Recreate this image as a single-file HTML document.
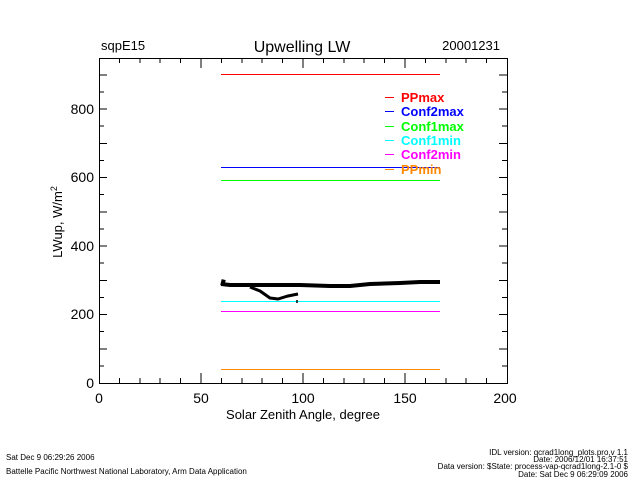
<!DOCTYPE html>
<html><head><style>body{margin:0;background:#fff}svg{display:block}</style></head><body>
<svg width="640" height="480" xmlns="http://www.w3.org/2000/svg" font-family="Liberation Sans, sans-serif">
<rect width="640" height="480" fill="#fff"/>
<text x="101" y="50" font-size="13">sqpE15</text>
<text x="302" y="52" font-size="16" text-anchor="middle">Upwelling  LW</text>
<text x="500" y="50" font-size="13" text-anchor="end">20001231</text>
<rect x="99.5" y="58.5" width="408" height="325" fill="none" stroke="#000" stroke-width="1" shape-rendering="crispEdges"/>
<g stroke="#000" stroke-width="1" shape-rendering="crispEdges">
<path d="M119.4 383v-5M139.8 383v-5M160.2 383v-5M180.6 383v-5M201 383v-10M221.4 383v-5M241.8 383v-5M262.2 383v-5M282.6 383v-5M303 383v-10M323.4 383v-5M343.8 383v-5M364.2 383v-5M384.6 383v-5M405 383v-10M425.4 383v-5M445.8 383v-5M466.2 383v-5M486.6 383v-5"/>
<path d="M119.4 58v5M139.8 58v5M160.2 58v5M180.6 58v5M201 58v10M221.4 58v5M241.8 58v5M262.2 58v5M282.6 58v5M303 58v10M323.4 58v5M343.8 58v5M364.2 58v5M384.6 58v5M405 58v10M425.4 58v5M445.8 58v5M466.2 58v5M486.6 58v5"/>
<path d="M99 365.9h5M99 348.8h8M99 331.6h5M99 314.5h8M99 297.4h5M99 280.3h8M99 263.1h5M99 246h8M99 228.9h5M99 211.8h8M99 194.6h5M99 177.5h8M99 160.4h5M99 143.3h8M99 126.1h5M99 109h8M99 91.9h5M99 74.8h8"/>
<path d="M507 365.9h-5M507 348.8h-8M507 331.6h-5M507 314.5h-8M507 297.4h-5M507 280.3h-8M507 263.1h-5M507 246h-8M507 228.9h-5M507 211.8h-8M507 194.6h-5M507 177.5h-8M507 160.4h-5M507 143.3h-8M507 126.1h-5M507 109h-8M507 91.9h-5M507 74.8h-8"/>
</g>
<g font-size="14" text-anchor="end">
<text x="94" y="388">0</text><text x="94" y="319">200</text><text x="94" y="251">400</text><text x="94" y="182">600</text><text x="94" y="114">800</text>
</g>
<g font-size="14" text-anchor="middle">
<text x="99" y="403">0</text><text x="201" y="403">50</text><text x="303" y="403">100</text><text x="405" y="403">150</text><text x="505" y="403">200</text>
</g>
<text x="303" y="419" font-size="13" text-anchor="middle">Solar Zenith Angle, degree</text>
<text transform="translate(62,222) rotate(-90)" font-size="13" text-anchor="middle">LWup, W/m<tspan dy="-5" font-size="9">2</tspan></text>
<g stroke-width="1" shape-rendering="crispEdges">
<line x1="221" y1="74.5" x2="440" y2="74.5" stroke="#f00"/>
<line x1="221" y1="167.5" x2="440" y2="167.5" stroke="#00f"/>
<line x1="221" y1="180.5" x2="440" y2="180.5" stroke="#0f0"/>
<line x1="221" y1="301.5" x2="440" y2="301.5" stroke="#0ff"/>
<line x1="221" y1="311.5" x2="440" y2="311.5" stroke="#f0f"/>
<line x1="221" y1="369.5" x2="440" y2="369.5" stroke="#f80"/>
</g>
<polyline points="221,284 230,285 260,285 300,285 330,286 350,286 370,284 400,283 420,282 440,282" fill="none" stroke="#000" stroke-width="4"/>
<polyline points="221,282 225,283" stroke="#000" stroke-width="6"/>
<polyline points="250,287 260,291 270,298 278,299 288,296 298,294" fill="none" stroke="#000" stroke-width="3"/>
<line x1="297" y1="300" x2="297" y2="303" stroke="#000" stroke-width="1.5"/>
<g font-size="13" font-weight="bold" shape-rendering="crispEdges">
<line x1="385" y1="97.5" x2="394" y2="97.5" stroke="#f00"/><text x="401" y="102" fill="#f00">PPmax</text>
<line x1="385" y1="111.5" x2="394" y2="111.5" stroke="#00f"/><text x="401" y="116" fill="#00f">Conf2max</text>
<line x1="385" y1="126.5" x2="394" y2="126.5" stroke="#0f0"/><text x="401" y="131" fill="#0f0">Conf1max</text>
<line x1="385" y1="140.5" x2="394" y2="140.5" stroke="#0ff"/><text x="401" y="145" fill="#0ff">Conf1min</text>
<line x1="385" y1="154.5" x2="394" y2="154.5" stroke="#f0f"/><text x="401" y="159" fill="#f0f">Conf2min</text>
<line x1="385" y1="169.5" x2="394" y2="169.5" stroke="#f80"/><text x="401" y="174" fill="#f80">PPmin</text>
</g>
<g font-size="8">
<text x="6" y="460">Sat Dec  9 06:29:26 2006</text>
<text x="6" y="474">Battelle Pacific Northwest National Laboratory, Arm Data Application</text>
<g text-anchor="end">
<text x="628" y="455">IDL version: qcrad1long_plots.pro,v 1.1</text>
<text x="628" y="462">Date: 2006/12/01 16:37:51</text>
<text x="628" y="469">Data version: $State: process-vap-qcrad1long-2.1-0 $</text>
<text x="628" y="477">Date: Sat Dec  9 06:29:09 2006</text>
</g>
</g>
</svg>
</body></html>
